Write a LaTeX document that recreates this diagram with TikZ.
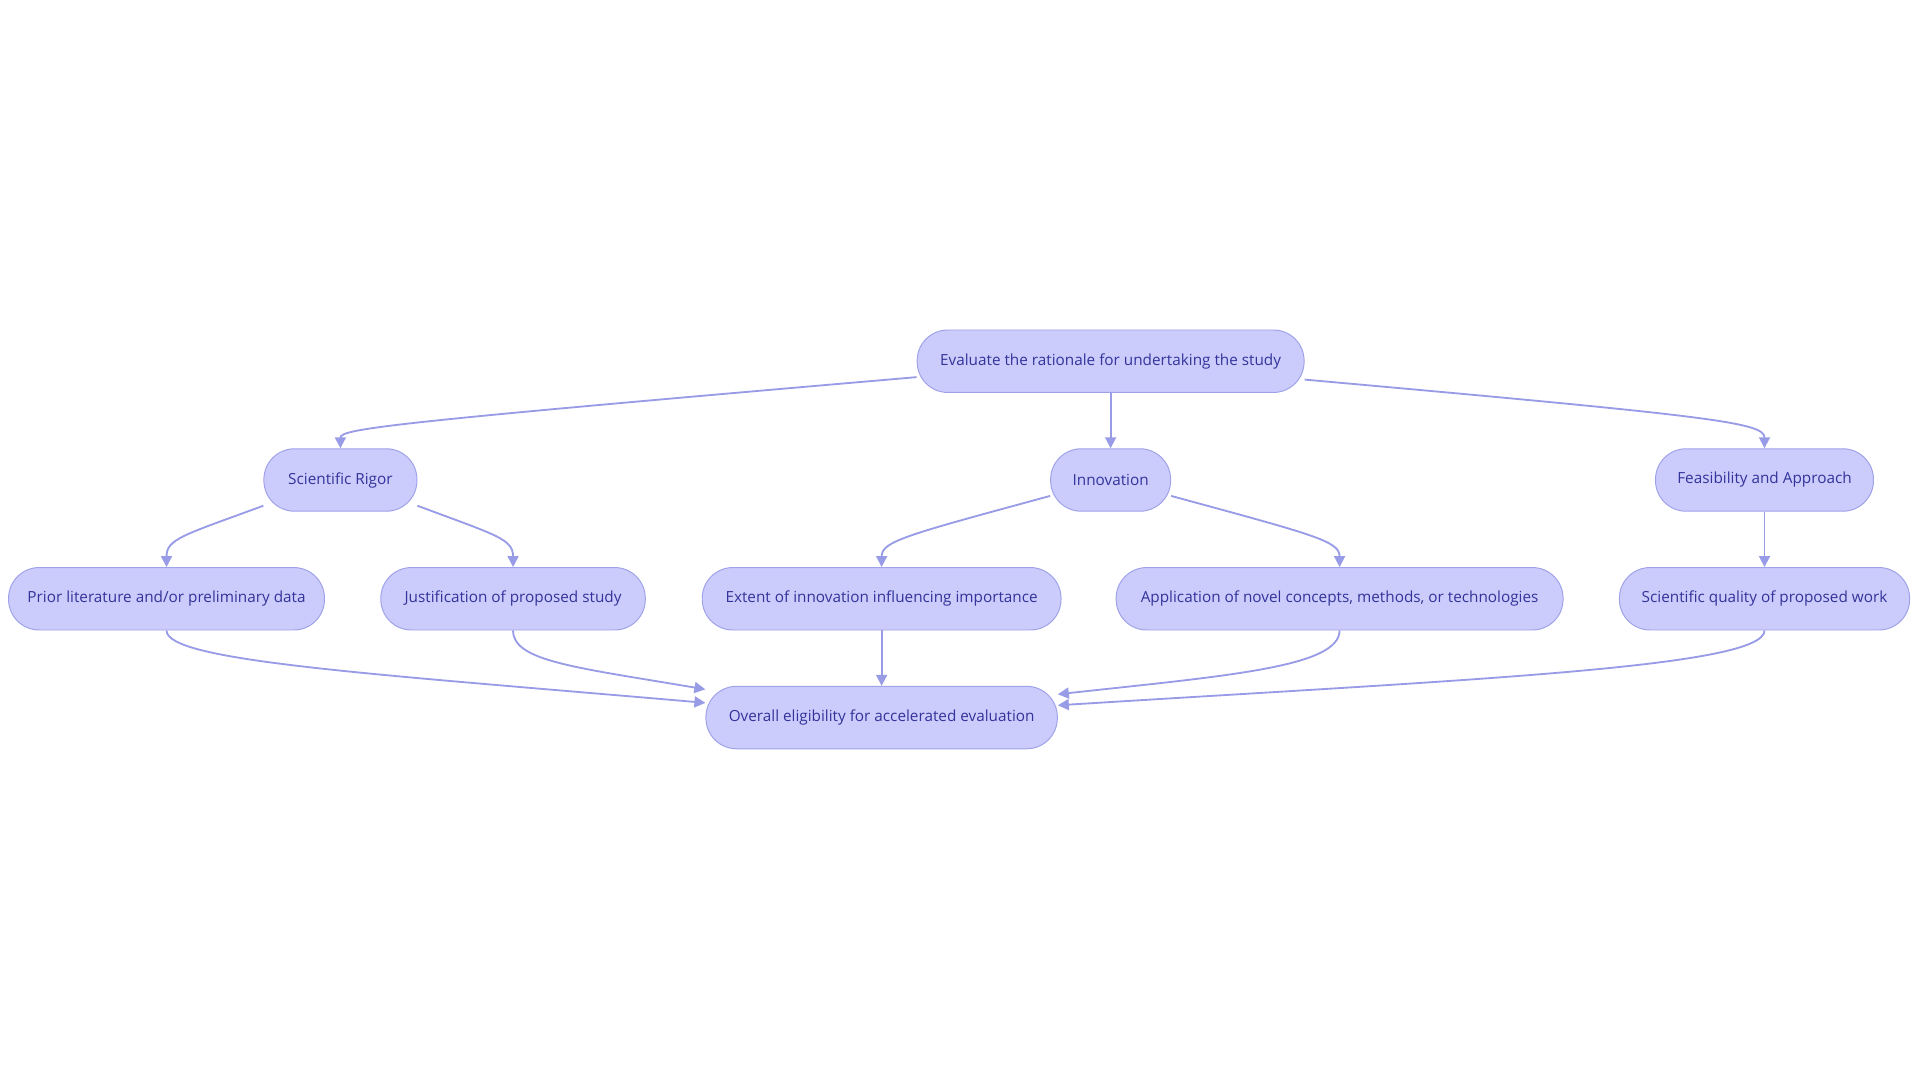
\documentclass[tikz,border=0pt]{standalone}
\usepackage{fontspec}
\setmainfont{Open Sans}
\usetikzlibrary{arrows.meta}
\definecolor{nfill}{HTML}{CBCCFC}
\definecolor{nline}{HTML}{9FA2E8}
\definecolor{ntext}{HTML}{33339A}
\definecolor{eline}{HTML}{989BE6}
\begin{document}
\begin{tikzpicture}[x=1pt,y=-1pt,
  box/.style={draw=nline,fill=nfill,rounded corners=25pt,minimum height=51pt,inner sep=0pt,text=ntext,font=\fontsize{12.5}{14}\selectfont,line width=0.8pt},
  edge/.style={draw=eline,line width=1.5pt,-{Triangle[length=9pt,width=9pt]}}]
\useasboundingbox (0,0) rectangle (1568,882);
\node[box,minimum width=316pt] (top) at (907,295) {Evaluate the rationale for undertaking the study};
\node[box,minimum width=125pt] (sr) at (278,392) {Scientific Rigor};
\node[box,minimum width=98pt] (inn) at (907,392) {Innovation};
\node[box,minimum width=178pt] (fea) at (1441,392) {Feasibility and Approach};
\node[box,minimum width=258pt] (pri) at (136,489) {Prior literature and/or preliminary data};
\node[box,minimum width=216pt] (jus) at (419,489) {Justification of proposed study};
\node[box,minimum width=293pt] (ext) at (720,489) {Extent of innovation influencing importance};
\node[box,minimum width=365pt] (app) at (1094,489) {Application of novel concepts, methods, or technologies};
\node[box,minimum width=237pt] (sq) at (1441,489) {Scientific quality of proposed work};
\node[box,minimum width=287pt] (ov) at (720,586) {Overall eligibility for accelerated evaluation};
\draw[edge] ([yshift=-13pt]top.west) .. controls (320,345) and (278,350) .. (sr.north);
\draw[edge] (top.south) -- (inn.north);
\draw[edge] ([yshift=-15pt]top.east) .. controls (1400,340) and (1441,345) .. (fea.north);
\draw[edge] ([yshift=-21pt]sr.west) .. controls (150,437) and (136,440) .. (pri.north);
\draw[edge] ([yshift=-21pt]sr.east) .. controls (405,437) and (419,440) .. (jus.north);
\draw[edge] ([yshift=-13pt]inn.west) .. controls (740,437) and (720,442) .. (ext.north);
\draw[edge] ([yshift=-13pt]inn.east) .. controls (1074,437) and (1094,442) .. (app.north);
\draw[edge] (fea.south) -- (sq.north);
\draw[edge] (pri.south) .. controls (136,540) and (300,550) .. ([yshift=12pt]ov.west);
\draw[edge] (jus.south) .. controls (419,540) and (470,545) .. ([yshift=23pt]ov.west);
\draw[edge] (ext.south) -- (ov.north);
\draw[edge] (app.south) .. controls (1094,545) and (1000,552) .. ([yshift=19pt]ov.east);
\draw[edge] (sq.south) .. controls (1441,545) and (1200,555) .. ([yshift=10pt]ov.east);
\end{tikzpicture}
\end{document}
